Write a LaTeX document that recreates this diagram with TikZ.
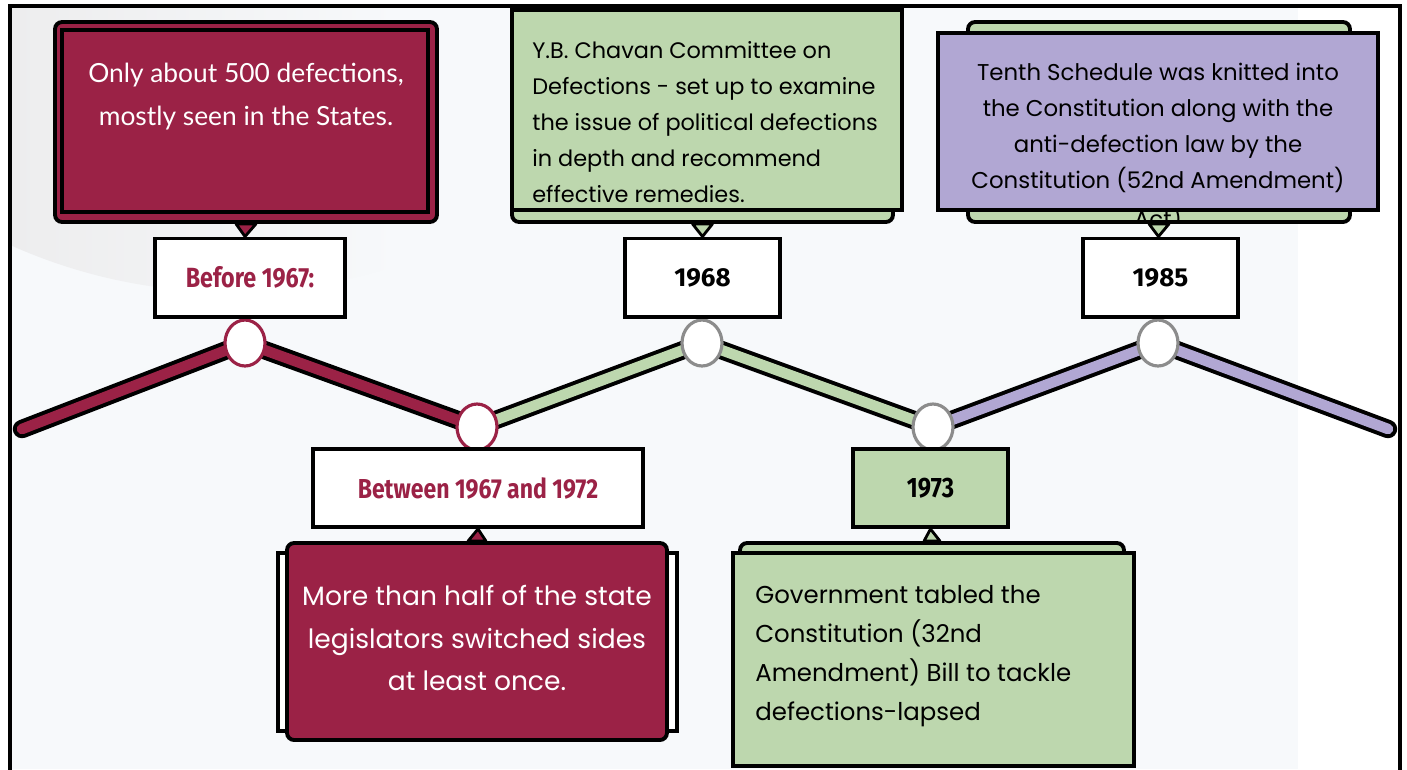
\documentclass[tikz,border=0pt]{standalone}
\usepackage{fontspec}
\setmainfont{Poppins}
\newfontfamily\notefont{Lato}
\newfontfamily\tagfont[FakeStretch=0.84]{Fira Sans}
\newfontfamily\yearfont{Fira Sans}
\usepackage{tikz}
\usetikzlibrary{positioning,calc,shapes.geometric}
\definecolor{wine}{HTML}{9B2246}
\definecolor{sage}{HTML}{BDD7AE}
\definecolor{lilac}{HTML}{B1A7D3}
\definecolor{paper}{HTML}{F7F9FB}
\definecolor{haze}{HTML}{EDEDEE}
\definecolor{rim}{HTML}{8C8C8C}

\tikzset{
  card/.style={draw=black,line width=2.2pt,fill=#1,inner sep=0pt},
  back/.style={draw=black,line width=2.2pt,fill=#1,rounded corners=4pt,inner sep=0pt},
  datebox/.style={draw=black,line width=2pt,fill=#1,inner sep=0pt,minimum height=1.57cm},
  knot/.style={ellipse,draw=#1,line width=1.8pt,fill=white,inner sep=0pt,minimum width=0.8cm,minimum height=0.92cm},
  tail/.style={draw=black,line width=1.6pt,fill=#1,line join=round},
}

\begin{document}
\begin{tikzpicture}[x=0.02cm,y=-0.02cm]
    \useasboundingbox (0,0) rectangle (1407,769);
    % page
    \fill[paper] (10,6) rectangle (1400,769);
    \fill[white] (1298,6) rectangle (1400,769);
    \begin{scope}
      \clip (230,-244) circle (536);
      \shade[left color=haze,middle color=haze,right color=paper] (10,6) rectangle (400,300);
    \end{scope}
    \draw[line width=2pt] (10,790) -- (10,6) -- (1400,6) -- (1400,790);

    % timeline
    \coordinate (s0) at (22,429);
    \coordinate (k1) at (245,343);
    \coordinate (k2) at (477,427);
    \coordinate (k3) at (702,343);
    \coordinate (k4) at (933,427);
    \coordinate (k5) at (1158,343);
    \coordinate (s6) at (1388,429);
    \foreach \a/\b in {s0/k1,k1/k2,k2/k3,k3/k4,k4/k5,k5/s6}
      \draw[line width=10.5pt,line cap=round] (\a) -- (\b);
    \foreach \a/\b/\c in {s0/k1/wine,k1/k2/wine,k2/k3/sage,k3/k4/sage,k4/k5/lilac,k5/s6/lilac}
      \draw[line width=6pt,line cap=round,\c] (\a) -- (\b);
    \node[knot=wine] (p1) at (k1) {};
    \node[knot=wine] (p2) at (k2) {};
    \node[knot=rim] (p3) at (k3) {};
    \node[knot=rim] (p4) at (k4) {};
    \node[knot=rim] (p5) at (k5) {};

    % before 1967
    \node[back=wine,minimum width=7.64cm,minimum height=4cm] (oldback) at (246,122) {};
    \node[card=wine,minimum width=7.32cm,minimum height=3.64cm] (oldcard) at (245,121) {};
    \node[white,align=center,font=\notefont\fontsize{15}{24.5}\selectfont] (oldtext) at (246,97)
      {Only about 500 defections,\\mostly seen in the States.};
    \node[datebox=white,minimum width=3.8cm] (before) at (250,277.5)
      {\tagfont\bfseries\fontsize{15.8}{17}\selectfont\color{wine}Before 1967:};
    \filldraw[tail=wine] ($(oldback.south)+(-10,0)$) -- ($(oldback.south)+(10,0)$) -- ($(before.north)+(-5,0)$) -- cycle;

    % between 1967 and 1972
    \node[card=white,minimum width=7.98cm,minimum height=3.56cm] (midback) at (477.5,642) {};
    \node[back=wine,minimum width=7.6cm,minimum height=3.94cm] (midcard) at (477,641.5) {};
    \node[white,align=center,font=\fontsize{15.1}{24}\selectfont] (midtext) at (477,638)
      {More than half of the state\\legislators switched sides\\at least once.};
    \node[datebox=white,minimum width=6.6cm] (between) at (478,488)
      {\tagfont\bfseries\fontsize{15.6}{17}\selectfont\color{wine}Between 1967 and 1972};
    \filldraw[tail=wine] ($(midcard.north)+(-9,0)$) -- ($(midcard.north)+(9,0)$) -- (between.south) -- cycle;

    % 1968
    \node[back=sage,minimum width=7.62cm,minimum height=4.04cm] (chavback) at (702.5,121) {};
    \node[card=sage,minimum width=7.8cm,minimum height=4cm] (chavcard) at (707,110) {};
    \node[anchor=north west,align=left,inner sep=0pt,font=\fontsize{12.75}{20.5}\selectfont] (chavtext) at (532,41)
      {Y.B. Chavan Committee on\\Defections - set up to examine\\the issue of political defections\\in depth and recommend\\effective remedies.};
    \node[datebox=white,minimum width=3.1cm] (y1968) at (702.5,277.5)
      {\yearfont\bfseries\fontsize{14.8}{16}\selectfont 1968};
    \filldraw[tail=sage] ($(chavback.south)+(-10,0)$) -- ($(chavback.south)+(10,0)$) -- (y1968.north) -- cycle;

    % 1973
    \node[back=sage,minimum width=7.68cm,minimum height=3.94cm] (billback) at (932,641.5) {};
    \node[card=sage,minimum width=8.02cm,minimum height=4.26cm] (billcard) at (933.5,659.5) {};
    \node[anchor=north west,align=left,inner sep=0pt,font=\fontsize{13.9}{22.2}\selectfont] (billtext) at (755,585)
      {Government tabled the\\Constitution (32nd\\Amendment) Bill to tackle\\defections-lapsed};
    \node[datebox=sage,minimum width=3.1cm] (y1973) at (930.5,488)
      {\tagfont\bfseries\fontsize{16}{17}\selectfont 1973};
    \filldraw[tail=sage] ($(billback.north)+(-8,0)$) -- ($(billback.north)+(8,0)$) -- (y1973.south) -- cycle;

    % 1985
    \node[back=sage,minimum width=7.64cm,minimum height=4cm] (tenthback) at (1159,122) {};
    \begin{scope}
      \clip (968,200) rectangle (1350,221);
      \node[font=\fontsize{13}{15}\selectfont] (acttext) at (1158,219) {Act)};
    \end{scope}
    \node[card=lilac,minimum width=8.8cm,minimum height=3.54cm] (tenthcard) at (1158,121.5) {};
    \node[align=center,font=\fontsize{13}{20.5}\selectfont] (tenthtext) at (1158,128)
      {Tenth Schedule was knitted into\\the Constitution along with the\\anti-defection law by the\\Constitution (52nd Amendment)};
    \node[datebox=white,minimum width=3.1cm] (y1985) at (1160.5,277.5)
      {\yearfont\bfseries\fontsize{14.8}{16}\selectfont 1985};
    \filldraw[tail=sage] ($(tenthback.south)+(-10,0)$) -- ($(tenthback.south)+(10,0)$) -- ($(y1985.north)+(-2,0)$) -- cycle;
\end{tikzpicture}
\end{document}
